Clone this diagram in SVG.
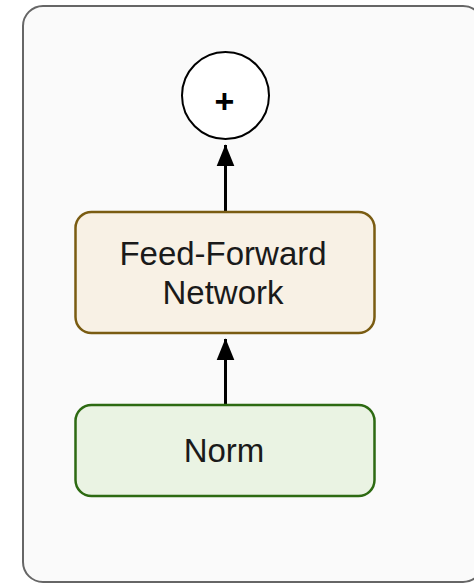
<svg xmlns="http://www.w3.org/2000/svg" width="474" height="583" viewBox="0 0 474 583">
<defs>
<style>
.lbl{font-family:"Liberation Sans",Arial,Helvetica,sans-serif;fill:#1a1a1a;text-anchor:middle}
.edge{stroke:#000;stroke-width:3;fill:none}
</style>
<marker id="ah" markerUnits="userSpaceOnUse" markerWidth="22" markerHeight="27" refX="25" refY="10.5" orient="auto" viewBox="0 0 26 21">
<path d="M0,0 L26,10.5 L0,21 Z" fill="#000"/>
</marker>
</defs>
<rect width="474" height="583" fill="#ffffff"/>
<g id="container">
<rect x="23" y="6" width="460" height="576" rx="20" fill="#fafafa" stroke="#666666" stroke-width="2"/>
</g>
<g id="connectors">
<line class="edge" x1="225.5" y1="212" x2="225.5" y2="145" marker-end="url(#ah)"/>
<line class="edge" x1="225.5" y1="405" x2="225.5" y2="339" marker-end="url(#ah)"/>
</g>
<g id="add">
<circle cx="225.5" cy="95.5" r="43.5" fill="#ffffff" stroke="#000" stroke-width="2"/>
<text class="lbl" x="224.5" y="113" font-size="34" font-weight="bold" style="fill:#000">+</text>
</g>
<g id="ffn">
<rect x="75.5" y="212" width="299" height="121" rx="16" fill="#f8f1e5" stroke="#7a5c12" stroke-width="2.5"/>
<text class="lbl" x="223" y="265" font-size="33">Feed-Forward</text>
<text class="lbl" x="223" y="304" font-size="33">Network</text>
</g>
<g id="norm">
<rect x="75.5" y="405" width="299" height="91" rx="16" fill="#eaf3e3" stroke="#2d6a12" stroke-width="2.5"/>
<text class="lbl" x="224" y="462" font-size="33">Norm</text>
</g>
</svg>
